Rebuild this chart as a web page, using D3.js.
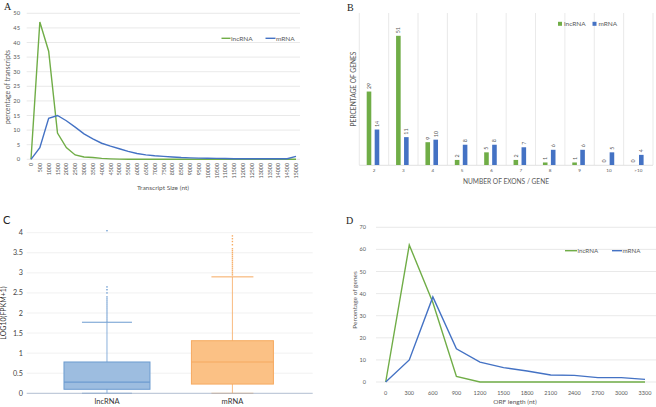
<!DOCTYPE html>
<html><head><meta charset="utf-8">
<script src="https://cdn.jsdelivr.net/npm/d3@7"></script>
<style>
body{margin:0;background:#fff;}
svg{display:block;font-family:Lato,"Open Sans",sans-serif;}
</style></head><body>
<svg id="c" width="656" height="407"></svg>
<script>
// ---------- DATA ----------
// Panel A: transcript size distribution
const sizeCats = ["0","500","1000","1500","2000","2500","3000","3500","4000","4500","5000","5500","6000","6500","7000","7500","8000","8500","9000","9500","10000","10500","11000","11500","12000","12500","13000","13500","14000","14500","15000"];
const sizeLnc = [0,47,37,9,4,1.5,0.8,0.6,0.3,0.15,0.05,0.03,0.02,0.02,0.02,0.02,0.02,0.02,0.02,0.02,0.02,0.02,0.02,0.02,0.02,0.02,0.02,0.02,0.02,0.02,0];
const sizeMrna = [0,4,14,15,13.2,11,8.7,7,5.5,4.5,3.6,2.7,2,1.5,1.2,1,0.8,0.6,0.5,0.4,0.35,0.3,0.25,0.2,0.2,0.2,0.2,0.2,0.2,0.2,1];
const sizeTicks = [0,5,10,15,20,25,30,35,40,45,50];

// Panel B: exons per gene
const exonCats = ["2","3","4","5","6","7","8","9","10",">10"];
const exonLnc = [29,51,9,2,5,2,1,1,0,0];
const exonMrna = [14,11,10,8,8,7,6,6,5,4];

// Panel C: expression box plots (LOG10(FPKM+1))
const boxCats = ["lncRNA","mRNA"];
const boxMin = [0,0];
const boxQ1 = [0.1,0.23];
const boxMed = [0.28,0.78];
const boxQ3 = [0.78,1.31];
const boxMax = [1.77,2.9];
const lncOutliers = [1.8,1.85,1.9,1.95,2.0,2.05,2.1,2.15,2.2,2.25,2.3,2.35,2.4,2.5,2.58,2.65,4.05];
const mrnaOutliers = [2.95,3.0,3.05,3.1,3.15,3.2,3.25,3.3,3.35,3.4,3.45,3.5,3.55,3.6,3.7,3.78,3.85,3.92];
const exprTicks = [0,0.5,1,1.5,2,2.5,3,3.5,4];

// Panel D: ORF length
const orfCats = ["0","300","600","900","1200","1500","1800","2100","2400","2700","3000","3300"];
const orfLnc = [0,62,36,2.5,0,0,0,0,0,0,0,0];
const orfMrna = [0,10,38.5,15,9,6.5,5,3.2,3,2,2,1.2];
const orfTicks = [0,10,20,30,40,50,60,70];

// ---------- STYLE ----------
const GREEN = "#70ad47", BLUE = "#4472c4", GRID = "#e3e3e3", TXT = "#595959";
const svg = d3.select("#c");
svg.append("rect").attr("width",656).attr("height",407).attr("fill","#fff");

// ================= PANEL A =================
(function(){
  const g = svg.append("g");
  const x = d3.scalePoint().domain(sizeCats).range([31,296]);
  const y = d3.scaleLinear().domain([0,50]).range([159.3,13.3]);
  g.selectAll("line.grid").data(sizeTicks).join("line")
    .attr("x1",26.7).attr("x2",300).attr("y1",d=>y(d)).attr("y2",d=>y(d))
    .attr("stroke",GRID).attr("stroke-width",0.8);
  g.selectAll("text.yt").data(sizeTicks).join("text")
    .attr("x",20).attr("y",d=>y(d)+2).attr("text-anchor","end")
    .attr("font-size",5.8).attr("fill",TXT).text(d=>d);
  g.selectAll("text.xt").data(sizeCats).join("text")
    .attr("transform",d=>`translate(${x(d)+2},163) rotate(-90)`)
    .attr("text-anchor","end").attr("font-size",5.3).attr("fill",TXT).text(d=>d);
  const line = d3.line().x((d,i)=>x(sizeCats[i])).y(d=>y(d));
  g.append("path").attr("d",line(sizeLnc)).attr("fill","none").attr("stroke",GREEN).attr("stroke-width",1.4);
  g.append("path").attr("d",line(sizeMrna)).attr("fill","none").attr("stroke",BLUE).attr("stroke-width",1.4);
  g.append("text").attr("x",163).attr("y",190).attr("text-anchor","middle")
    .attr("font-size",6.5).attr("fill",TXT).text("Transcript Size (nt)");
  g.append("text").attr("transform","translate(10,87) rotate(-90)").attr("text-anchor","middle")
    .attr("font-size",6.8).attr("fill",TXT).text("percentage of transcripts");
  // legend
  g.append("line").attr("x1",221.5).attr("x2",230.5).attr("y1",38.3).attr("y2",38.3).attr("stroke",GREEN).attr("stroke-width",1.4);
  g.append("text").attr("x",231).attr("y",40.7).attr("font-size",6.5).attr("fill",TXT).text("lncRNA");
  g.append("line").attr("x1",265.5).attr("x2",275.5).attr("y1",38.3).attr("y2",38.3).attr("stroke",BLUE).attr("stroke-width",1.4);
  g.append("text").attr("x",276).attr("y",40.7).attr("font-size",6.5).attr("fill",TXT).text("mRNA");
  g.append("text").attr("x",4).attr("y",10).attr("font-family","'Liberation Serif',serif").attr("font-size",10).attr("fill","#222").text("A");
})();

// ================= PANEL B =================
(function(){
  const g = svg.append("g");
  const x = d3.scaleBand().domain(exonCats).range([359.3,653]);
  const bw = x.bandwidth();
  const xs = d3.scaleBand().domain(["lncRNA","mRNA"]).range([0.252*bw,0.68*bw]).paddingInner(0.425);
  const y = d3.scaleLinear().domain([0,60]).range([165,13]);
  const bounds = exonCats.map(c=>x(c)).concat([x(exonCats[exonCats.length-1])+bw]);
  g.selectAll("line.sep").data(bounds).join("line")
    .attr("x1",d=>d).attr("x2",d=>d).attr("y1",13).attr("y2",165)
    .attr("stroke",GRID).attr("stroke-width",0.8);
  g.append("line").attr("x1",359.3).attr("x2",653).attr("y1",165.3).attr("y2",165.3).attr("stroke","#d9d9d9").attr("stroke-width",0.8);
  const series = [{k:"lncRNA",v:exonLnc,c:GREEN},{k:"mRNA",v:exonMrna,c:BLUE}];
  series.forEach(s=>{
    g.selectAll(null).data(s.v).join("rect")
      .attr("x",(d,i)=>x(exonCats[i])+xs(s.k)).attr("width",xs.bandwidth())
      .attr("y",d=>y(d)).attr("height",d=>y(0)-y(d)).attr("fill",s.c);
    g.selectAll(null).data(s.v).join("text")
      .attr("transform",(d,i)=>`translate(${x(exonCats[i])+xs(s.k)+xs.bandwidth()/2+2},${y(d)-2.5}) rotate(-90)`)
      .attr("font-size",5.3).attr("fill",TXT).text(d=>d);
  });
  g.selectAll("text.xt").data(exonCats).join("text")
    .attr("x",d=>x(d)+bw/2).attr("y",171.5).attr("text-anchor","middle")
    .attr("font-size",4.6).attr("fill",TXT).text(d=>d);
  g.append("text").attr("x",506).attr("y",184).attr("text-anchor","middle")
    .attr("font-size",6.6).attr("fill",TXT).text("NUMBER OF EXONS / GENE");
  g.append("text").attr("transform","translate(355.5,89) rotate(-90)").attr("text-anchor","middle")
    .attr("font-size",6.6).attr("fill",TXT).text("PERCENTAGE OF GENES");
  // legend
  g.append("rect").attr("x",558).attr("y",21.8).attr("width",4).attr("height",4).attr("fill",GREEN);
  g.append("text").attr("x",564).attr("y",26.2).attr("font-size",6.5).attr("fill",TXT).text("lncRNA");
  g.append("rect").attr("x",592.5).attr("y",21.8).attr("width",4).attr("height",4).attr("fill",BLUE);
  g.append("text").attr("x",598.5).attr("y",26.2).attr("font-size",6.5).attr("fill",TXT).text("mRNA");
  g.append("text").attr("x",347).attr("y",11).attr("font-family","'Liberation Serif',serif").attr("font-size",10).attr("fill","#222").text("B");
})();

// ================= PANEL C =================
(function(){
  const g = svg.append("g");
  const x = d3.scalePoint().domain(boxCats).range([26.7,312.7]).padding(0.64);
  const y = d3.scaleLinear().domain([0,4]).range([393.3,232.7]);
  g.selectAll("line.grid").data(exprTicks.slice(1)).join("line")
    .attr("x1",26.7).attr("x2",312.7).attr("y1",d=>y(d)).attr("y2",d=>y(d))
    .attr("stroke","#eeeeee").attr("stroke-width",0.8);
  g.selectAll("text.yt").data(exprTicks).join("text")
    .attr("x",23).attr("y",d=>y(d)+2.5).attr("text-anchor","end")
    .attr("font-size",7.2).attr("fill","#444").text(d=>d);
  const fills = ["#9dbde0","#fbc185"], strokes = ["#6c9bd0","#f6aa60"];
  const outs = [lncOutliers, mrnaOutliers];
  const boxW = [86,82], capW = [50,42];
  boxCats.forEach((c,i)=>{
    const cx = x(c);
    g.append("line").attr("x1",cx).attr("x2",cx).attr("y1",y(boxMin[i])).attr("y2",y(boxMax[i]))
      .attr("stroke",strokes[i]).attr("stroke-width",0.8);
    [boxMin[i],boxMax[i]].forEach(v=>{
      g.append("line").attr("x1",cx-capW[i]/2).attr("x2",cx+capW[i]/2).attr("y1",y(v)).attr("y2",y(v))
        .attr("stroke",strokes[i]).attr("stroke-width",1);
    });
    g.append("rect").attr("x",cx-boxW[i]/2).attr("width",boxW[i]).attr("y",y(boxQ3[i])).attr("height",y(boxQ1[i])-y(boxQ3[i]))
      .attr("fill",fills[i]).attr("stroke",strokes[i]).attr("stroke-width",1);
    g.append("line").attr("x1",cx-boxW[i]/2).attr("x2",cx+boxW[i]/2).attr("y1",y(boxMed[i])).attr("y2",y(boxMed[i]))
      .attr("stroke",strokes[i]).attr("stroke-width",1.2);
    g.selectAll(null).data(outs[i]).join("rect")
      .attr("x",cx-0.7).attr("y",d=>y(d)-0.7).attr("width",1.4).attr("height",1.4).attr("fill",strokes[i]);
    g.append("text").attr("x",cx).attr("y",404).attr("text-anchor","middle")
      .attr("font-size",7.5).attr("fill","#333").text(c);
  });
  g.append("line").attr("x1",26.7).attr("x2",312.7).attr("y1",y(0)).attr("y2",y(0)).attr("stroke","#a9b7cc").attr("stroke-width",0.9);
  g.append("text").attr("transform","translate(6,313) rotate(-90)").attr("text-anchor","middle")
    .attr("font-size",7).attr("fill","#333").text("LOG10(FPKM+1)");
  g.append("text").attr("x",3).attr("y",224).attr("font-size",11).attr("fill","#222").text("C");
})();

// ================= PANEL D =================
(function(){
  const g = svg.append("g");
  const x = d3.scalePoint().domain(orfCats).range([385.7,645]);
  const y = d3.scaleLinear().domain([0,70]).range([382,227.3]);
  g.selectAll("line.grid").data(orfTicks).join("line")
    .attr("x1",376).attr("x2",656).attr("y1",d=>y(d)).attr("y2",d=>y(d))
    .attr("stroke",GRID).attr("stroke-width",0.8);
  g.selectAll("text.yt").data(orfTicks).join("text")
    .attr("x",366).attr("y",d=>y(d)+2).attr("text-anchor","end")
    .attr("font-size",5.5).attr("fill",TXT).text(d=>d);
  g.selectAll("text.xt").data(orfCats).join("text")
    .attr("x",d=>x(d)).attr("y",394.5).attr("text-anchor","middle")
    .attr("font-size",5.5).attr("fill",TXT).text(d=>d);
  const line = d3.line().x((d,i)=>x(orfCats[i])).y(d=>y(d));
  g.append("path").attr("d",line(orfLnc)).attr("fill","none").attr("stroke",GREEN).attr("stroke-width",1.4);
  g.append("path").attr("d",line(orfMrna)).attr("fill","none").attr("stroke",BLUE).attr("stroke-width",1.4);
  g.append("text").attr("x",515).attr("y",404).attr("text-anchor","middle")
    .attr("font-size",6.5).attr("fill",TXT).text("ORF length (nt)");
  g.append("text").attr("transform","translate(357,300) rotate(-90)").attr("text-anchor","middle")
    .attr("font-size",6.5).attr("fill",TXT).text("Percentage of genes");
  g.append("line").attr("x1",565).attr("x2",577).attr("y1",250.7).attr("y2",250.7).attr("stroke",GREEN).attr("stroke-width",1.4);
  g.append("text").attr("x",577.5).attr("y",253).attr("font-size",6.2).attr("fill",TXT).text("lncRNA");
  g.append("line").attr("x1",612).attr("x2",622).attr("y1",250.7).attr("y2",250.7).attr("stroke",BLUE).attr("stroke-width",1.4);
  g.append("text").attr("x",622.5).attr("y",253).attr("font-size",6.2).attr("fill",TXT).text("mRNA");
  g.append("text").attr("x",346).attr("y",224).attr("font-family","'Liberation Serif',serif").attr("font-size",10).attr("fill","#222").text("D");
})();
</script>
</body></html>
